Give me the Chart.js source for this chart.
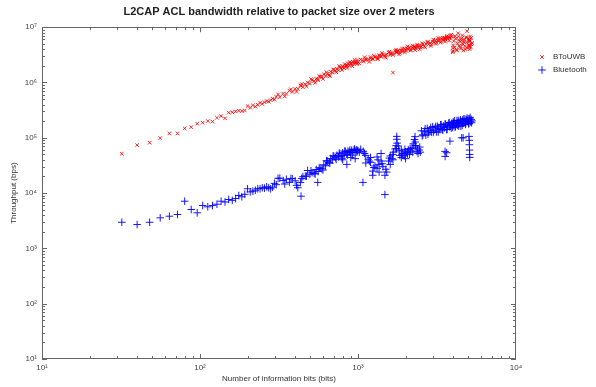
<!DOCTYPE html>
<html>
<head>
<meta charset="utf-8">
<title>L2CAP ACL bandwidth</title>
<script src="https://cdn.jsdelivr.net/npm/chart.js@4.4.1/dist/chart.umd.min.js"></script>
<style>
  html, body { margin: 0; padding: 0; background: #fff; }
</style>
</head>
<body>
<canvas id="bandwidthChart" width="596" height="387"></canvas>
<script>
// Packet sizes (bits), shared by both series
const packetBits = [
    // sparse small packets
    32, 40, 48, 56, 64, 72, 80, 88, 96, 104, 112, 120, 128, 136, 144, 152, 160, 168, 176, 184,
    192, 200, 208, 216, 224, 232, 240, 248, 256, 264, 272, 280, 288, 296,
    // 300 - 1000
    304, 320, 336, 352, 368, 384, 400, 416, 432, 448, 464, 480, 496, 512, 528, 544, 560, 576, 592, 608,
    624, 640, 656, 672, 688, 704, 720, 736, 752, 768, 784, 800, 816, 832, 848, 864, 880, 896, 912, 928,
    944, 960, 976, 992,
    // 1000 - 2500
    1000, 1040, 1080, 1120, 1160, 1200, 1240, 1280, 1320, 1360, 1400, 1440, 1480, 1520, 1560, 1600, 1640, 1680, 1720, 1760,
    1800, 1840, 1880, 1920, 1960, 2000, 2040, 2080, 2120, 2160, 2200, 2240, 2280, 2320, 2360, 2400, 2440, 2480,
    // 2500 - 5300
    2520, 2576, 2632, 2688, 2744, 2800, 2856, 2912, 2968, 3024, 3080, 3136, 3192, 3248, 3304, 3360, 3416, 3472, 3528, 3584,
    3640, 3696, 3752, 3808, 3864, 3920, 3976, 4032, 4088, 4144, 4200, 4256, 4312, 4368, 4424, 4480, 4536, 4592, 4648, 4704,
    4760, 4816, 4872, 4928, 4984, 5040, 5096, 5152, 5208, 5264,
    // repeated runs / outliers
    436, 556, 850, 800, 900, 960, 1075, 1480, 1240, 1664, 1752, 1760, 1768, 2296, 2304, 1120, 1200, 1400, 1320, 1600,
    1880, 2000, 1360, 3556, 3560, 3640, 3820, 4530, 4630, 5040, 5064, 5072, 5080, 5088, 5096, 3990, 4300, 4900, 3970,
    // in-between sizes
    312, 344, 376, 408, 440, 472, 504, 536, 568, 600, 632, 664, 696, 728, 760, 792, 824, 856, 888, 920, 952, 984,
    1020, 1100, 1180, 1260, 1340, 1420, 1500, 1580, 1660, 1740, 1820, 1900, 1980, 2060, 2140, 2220, 2300, 2380, 2460,
    2548, 2660, 2772, 2884, 2996, 3108, 3220, 3332, 3444, 3556, 3668, 3780, 3892,
    4004, 4116, 4228, 4340, 4452, 4564, 4676, 4788, 4900, 5012, 5124, 5236
];

// BToUWB throughput (bps)
const btouwbBps = [
    51500, 73800, 81500, 98800, 120000, 120000, 148000, 156000, 180000, 188000,
    201000, 196000, 231000, 247000, 225000, 285000, 290000, 301000, 310000, 305000,
    312000, 375000, 350000, 386000, 365000, 395000, 432000, 410000, 440000, 462000,
    450000, 480000, 511000, 490000,
    548000, 544000, 631000, 624000, 714000, 675000, 767000, 766000, 892000, 821000,
    928000, 998000, 952000, 1107000, 1066000, 1166000, 1094000, 1282000, 1254000, 1418000,
    1306000, 1436000, 1369000, 1580000, 1508000, 1717000, 1623000, 1759000, 1664000, 1905000,
    1824000, 1964000, 1818000, 2020000, 1966000, 2219000, 2036000, 2233000, 2163000, 2368000,
    2179000, 2356000, 2301000, 2545000,
    2323000, 2610000, 2396000, 2688000, 2603000, 2889000, 2627000, 2886000, 2689000, 3128000,
    2920000, 3190000, 2936000, 3216000, 3505000, 3180000, 3479000, 3272000, 3720000, 3501000,
    3781000, 3431000, 3826000, 3697000, 4142000, 3734000, 4108000, 4005000, 4348000, 3909000,
    4286000, 4118000, 4513000, 4165000, 4697000, 4351000, 4670000, 4311000,
    4473000, 4936000, 4503000, 4976000, 5315000, 4852000, 5192000, 4861000, 5525000, 5290000,
    5811000, 5273000, 5803000, 5659000, 6263000, 5527000, 6080000, 5860000, 6427000, 5952000,
    6730000, 6252000, 6731000, 6372000, 7065000, 6694000, 3520000, 5600000, 4300000, 6200000,
    3900000, 5100000, 6800000, 4600000, 5500000, 4100000, 6300000, 5000000, 3800000, 5900000,
    4500000, 6600000, 5300000, 4200000, 6100000, 4800000, 5700000, 4400000, 6400000, 5200000,
    870000, 1150000, 2050000, 1900000, 2190000, 2300000, 2500000, 3100000, 2700000, 1510000,
    3620000, 3480000, 3700000, 4250000, 4400000, 2550000, 2720000, 3050000, 2850000, 3350000,
    3700000, 3900000, 2980000, 6050000, 6300000, 6400000, 6500000, 5800000, 4900000, 5500000,
    4700000, 6000000, 4400000, 5600000, 4000000, 3700000, 7780000, 8470000, 4200000,
    609500, 557300, 754100, 678600, 939000, 854800, 1145900, 987500, 1294400, 1161000,
    1536300, 1303000, 1722100, 1530300, 1987600, 1678700, 2152700, 1824600, 2337500, 1959200,
    2567900, 2171400,
    2207800, 2863200, 2357200, 3049000, 2658300, 3403500, 2803500, 3606400, 3138400, 3930400,
    3222400, 4121300, 3510500, 4499000, 3758500, 4647100, 3844300, 4768100, 3972400,
    5123500, 4301500, 5459800, 4560600, 5942800, 5020200, 6354500, 5253900, 6479400, 5481500,
    6968100, 5738000, 7317900,
    4700000, 6900000, 3800000, 5900000, 4400000, 7100000, 5400000, 4000000, 6500000, 4600000,
    6800000, 4900000
];

// Bluetooth throughput (bps)
const bluetoothBps = [
    2970, 2700, 2970, 3570, 3820, 4100, 7130, 5050, 4400, 5960,
    5650, 5960, 6300, 7130, 6900, 7660, 7400, 7980, 9050, 8580,
    9500, 11970, 10500, 10800, 11270, 12000, 11970, 12500, 12300, 13000,
    12500, 11970, 12800, 15000,
    14200, 18600, 16900, 17800, 15600, 18200, 16700, 12500, 15500, 19800,
    20300, 25600, 21900, 23400, 22800, 26700, 24600, 28100, 27400, 32500,
    31200, 37800, 35900, 42300, 39800, 46100, 43500, 48200, 45300, 51700,
    46500, 53600, 48100, 56800, 50900, 57300, 55200, 54100, 59600, 53800,
    61300, 57900, 60200, 58700,
    59000, 62000, 57000, 48000, 41000, 36000, 25000, 31000, 28000, 33000,
    52000, 30000, 21000, 24000, 38000, 47000, 42000, 55000, 63000, 94000,
    71000, 48000, 44000, 52000, 47000, 56000, 54000, 61000, 50000, 58000,
    66000, 78000, 93000, 72000, 57000, 52000, 60000, 55000,
    133900, 113100, 131400, 111500, 147400, 126900, 136900, 126500, 159000, 137200,
    152000, 127900, 161900, 147600, 140400, 172800, 140900, 162900, 152200, 174700,
    141100, 167300, 184100, 157600, 166100, 183300, 154100, 183800, 203300, 160700,
    180400, 167600, 206000, 178300, 198800, 162700, 196700, 210000, 182800, 194200,
    217700, 181600, 209500, 197000, 221200, 181700, 218600, 195200, 215700, 202500,
    8790, 15600, 33000, 40000, 44000, 42000, 15600, 9400, 21000, 40000,
    64000, 106000, 80000, 105000, 84000, 35000, 44000, 38000, 45000, 33000,
    60000, 42000, 24000, 56700, 46000, 53700, 87000, 100000, 100000, 106000,
    90000, 75000, 60000, 50000, 44200, 165000, 190000, 205000, 175000,
    18500, 14600, 18400, 13800, 18400, 20200, 25400, 22200, 28800, 26100,
    38600, 34700, 47300, 40700, 52900, 42600, 57700, 48600, 60000, 48700,
    62600, 54600,
    55000, 52000, 38000, 29000, 40000, 34000, 27000, 43000, 50000, 72000,
    58000, 49000, 62000, 51000, 64000, 55000, 72000, 63000, 68000,
    108400, 146600, 116700, 154200, 125000, 161700, 127300, 171800, 137000, 178500,
    141900, 188500, 150000,
    195000, 154600, 204900, 162600, 211000, 166900, 220700, 174900, 226500, 178900,
    234100, 186800
];

const xTicks = [10, 100, 1000, 10000];
const yTicks = [10, 100, 1000, 10000, 100000, 1000000, 10000000];

const fontFamily = "'Liberation Sans', Arial, sans-serif";
const supDigits = { '0': '\u2070', '1': '\u00b9', '2': '\u00b2', '3': '\u00b3', '4': '\u2074',
                    '5': '\u2075', '6': '\u2076', '7': '\u2077', '8': '\u2078', '9': '\u2079' };

function powerLabel(value) {
    const exp = String(Math.round(Math.log10(value)));
    return '10' + exp.split('').map(d => supDigits[d]).join('');
}

// Box around the axes with inward ticks on all four sides
const boxTicks = {
    id: 'boxTicks',
    afterDraw(chart) {
        const { ctx, chartArea: a, scales: { x, y } } = chart;
        ctx.save();
        ctx.strokeStyle = '#666';
        ctx.lineWidth = 1;
        ctx.strokeRect(Math.round(a.left) + 0.5, Math.round(a.top) + 0.5,
                       Math.round(a.width) - 1, Math.round(a.height) - 1);
        ctx.beginPath();
        for (let d = 10; d < 10000; d *= 10) {
            for (let m = 1; m < 10; m++) {
                const px = Math.round(x.getPixelForValue(d * m)) + 0.5;
                const len = m === 1 ? 5 : 3;
                ctx.moveTo(px, a.bottom); ctx.lineTo(px, a.bottom - len);
                ctx.moveTo(px, a.top); ctx.lineTo(px, a.top + len);
            }
        }
        for (let d = 10; d < 10000000; d *= 10) {
            for (let m = 1; m < 10; m++) {
                const py = Math.round(y.getPixelForValue(d * m)) + 0.5;
                const len = m === 1 ? 5 : 3;
                ctx.moveTo(a.left, py); ctx.lineTo(a.left + len, py);
                ctx.moveTo(a.right, py); ctx.lineTo(a.right - len, py);
            }
        }
        ctx.stroke();
        ctx.restore();
    }
};

// Legend outside the axes, top right
const sideLegend = {
    id: 'sideLegend',
    afterDraw(chart) {
        const { ctx } = chart;
        ctx.save();
        ctx.font = '8px ' + fontFamily;
        ctx.textBaseline = 'middle';
        chart.data.datasets.forEach((ds, i) => {
            const yPos = 57 + i * 13;
            ctx.strokeStyle = ds.borderColor;
            ctx.lineWidth = ds.borderWidth;
            Chart.helpers.drawPoint(ctx, { pointStyle: ds.pointStyle, radius: ds.pointRadius, borderWidth: ds.borderWidth, rotation: 0 }, 542, yPos);
            ctx.fillStyle = '#333';
            ctx.fillText(ds.label, 553, yPos);
        });
        ctx.restore();
    }
};

const ctx = document.getElementById('bandwidthChart').getContext('2d');
new Chart(ctx, {
    type: 'scatter',
    data: {
        datasets: [
            {
                label: 'BToUWB',
                data: packetBits.map((b, i) => ({ x: b, y: btouwbBps[i] })),
                pointStyle: 'crossRot',
                pointRadius: 2.5,
                borderColor: 'rgba(255, 0, 0, 0.85)',
                borderWidth: 1
            },
            {
                label: 'Bluetooth',
                data: packetBits.map((b, i) => ({ x: b, y: bluetoothBps[i] })),
                pointStyle: 'cross',
                pointRadius: 3.8,
                borderColor: 'rgba(0, 0, 255, 0.9)',
                borderWidth: 1
            }
        ]
    },
    options: {
        responsive: false,
        animation: false,
        events: [],
        layout: { padding: { left: 0, right: 80, top: 0, bottom: 0 } },
        plugins: {
            legend: { display: false },
            tooltip: { enabled: false },
            title: {
                display: true,
                fullSize: false,
                text: 'L2CAP ACL bandwidth relative to packet size over 2 meters',
                color: '#222',
                font: { family: fontFamily, size: 11, weight: 'bold' },
                padding: { top: 5, bottom: 9 }
            }
        },
        scales: {
            x: {
                type: 'logarithmic',
                min: 10,
                max: 10000,
                afterBuildTicks: s => { s.ticks = xTicks.map(v => ({ value: v })); },
                afterFit: s => { s.height = 28; },
                grid: { display: false, drawTicks: false, tickLength: 0 },
                border: { display: false },
                ticks: {
                    autoSkip: false,
                    maxRotation: 0,
                    padding: 4,
                    color: '#444',
                    font: { family: fontFamily, size: 8 },
                    callback: v => powerLabel(v)
                },
                title: {
                    display: true,
                    text: 'Number of information bits (bits)',
                    color: '#333',
                    font: { family: fontFamily, size: 8 },
                    padding: { top: 0, bottom: 3 }
                }
            },
            y: {
                type: 'logarithmic',
                min: 10,
                max: 10000000,
                afterBuildTicks: s => { s.ticks = yTicks.map(v => ({ value: v })); },
                afterFit: s => { s.width = 42; },
                grid: { display: false, drawTicks: false, tickLength: 0 },
                border: { display: false },
                ticks: {
                    autoSkip: false,
                    padding: 5,
                    color: '#444',
                    font: { family: fontFamily, size: 8 },
                    callback: v => powerLabel(v)
                },
                title: {
                    display: true,
                    text: 'Throughput (bps)',
                    color: '#333',
                    font: { family: fontFamily, size: 8 },
                    padding: { top: 9, bottom: 0 }
                }
            }
        }
    },
    plugins: [boxTicks, sideLegend]
});
</script>
</body>
</html>
